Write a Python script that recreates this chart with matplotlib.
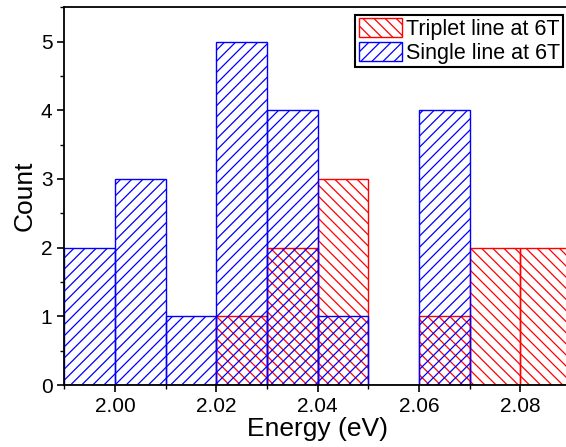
import matplotlib
matplotlib.use("Agg")
import matplotlib.pyplot as plt
from matplotlib.ticker import MultipleLocator

plt.rcParams['font.family'] = ['Liberation Sans', 'DejaVu Sans']
plt.rcParams['hatch.linewidth'] = 0.9

# bin edges (eV) and counts per bin
bin_left = [1.99, 2.00, 2.01, 2.02, 2.03, 2.04, 2.05, 2.06, 2.07, 2.08]
single_counts = [2, 3, 1, 5, 4, 1, 0, 4, 0, 0]
triplet_counts = [0, 0, 0, 1, 2, 3, 0, 1, 2, 2]
bin_width = 0.01

fig = plt.figure(figsize=(5.66, 4.47), dpi=100)
ax = fig.add_axes([0.1136, 0.1387, 0.895, 0.845])

# triplet (red) and single (blue) histograms, hatch only
ax.bar(bin_left, triplet_counts, width=bin_width, align='edge',
       facecolor='none', edgecolor='red', hatch='\\\\\\', linewidth=1.0,
       label='Triplet line at 6T')
ax.bar(bin_left, single_counts, width=bin_width, align='edge',
       facecolor='none', edgecolor='blue', hatch='///', linewidth=1.0,
       label='Single line at 6T')

ax.set_xlim(1.99, 2.09)
ax.set_ylim(0, 5.5)
ax.xaxis.set_major_locator(MultipleLocator(0.02))
ax.xaxis.set_minor_locator(MultipleLocator(0.01))
ax.yaxis.set_major_locator(MultipleLocator(1))
ax.yaxis.set_minor_locator(MultipleLocator(0.5))
ax.xaxis.set_major_formatter(plt.FormatStrFormatter('%.2f'))

ax.tick_params(which='major', direction='out', length=5, width=1.2, labelsize=15)
ax.tick_params(which='minor', direction='out', length=3, width=1.0)
ax.tick_params(axis='x', which='both', top=False)
ax.tick_params(axis='y', which='both', right=False)
for s in ax.spines.values():
    s.set_linewidth(1.3)

ax.set_xlabel('Energy (eV)', fontsize=19, labelpad=1)
ax.set_ylabel('Count', fontsize=19, labelpad=3)

leg = ax.legend(loc='upper right', fontsize=15.5, fancybox=False, framealpha=1,
                edgecolor='black', borderpad=0.15, labelspacing=0.1,
                handlelength=2.0, handleheight=1.0, handletextpad=0.2,
                borderaxespad=0.35)
leg.get_frame().set_linewidth(1.5)

fig.savefig('out.png', dpi=100)
